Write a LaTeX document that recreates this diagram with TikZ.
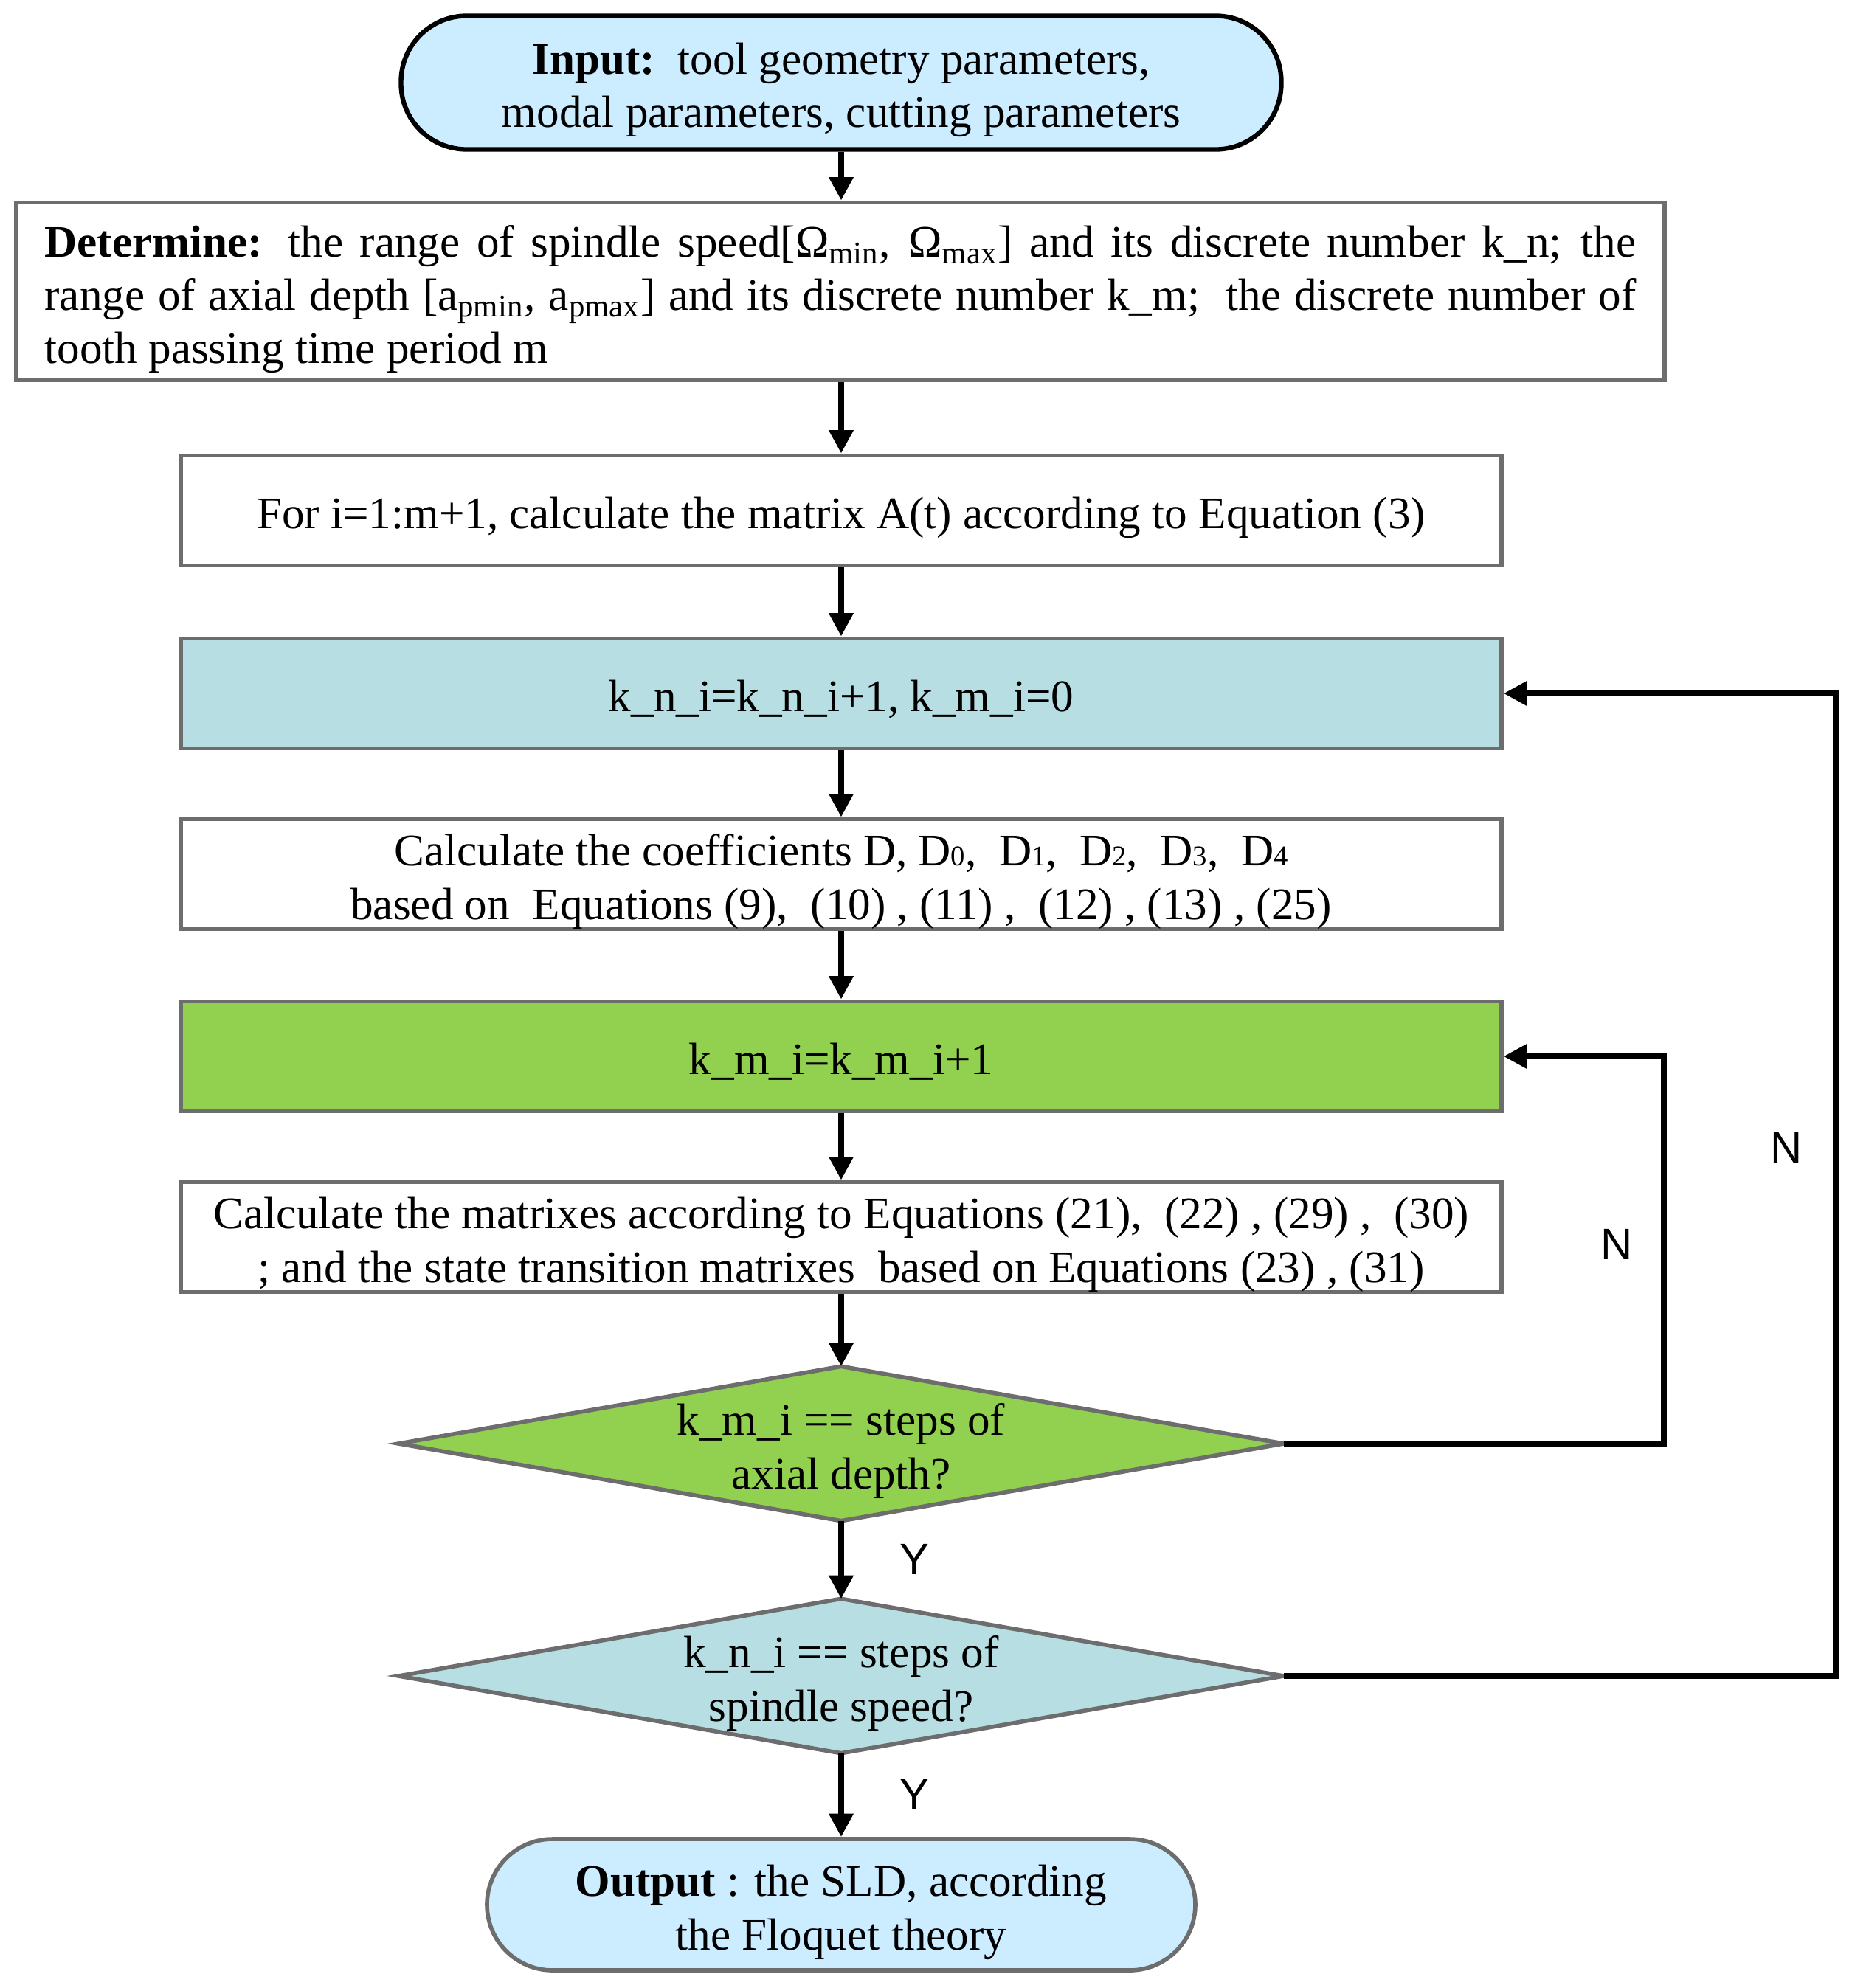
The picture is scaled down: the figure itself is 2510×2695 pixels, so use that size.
\documentclass[tikz,border=0pt]{standalone}
\usepackage{fontspec}
\setmainfont{Liberation Serif}
\newfontfamily\labelfont{Liberation Sans}
\usetikzlibrary{shapes.geometric,arrows.meta,backgrounds}
\definecolor{boxgray}{RGB}{109,109,109}
\definecolor{termblue}{RGB}{204,236,255}
\definecolor{tealfill}{RGB}{183,222,226}
\definecolor{greenfill}{RGB}{146,208,80}
\newcommand{\smd}[1]{{\fontsize{11}{11}\selectfont #1}}
\newcommand{\tx}[1]{\raisebox{-3pt}[\height][\depth]{\begin{tabular}{@{}c@{}}#1\end{tabular}}}
\begin{document}
\begin{tikzpicture}[x=0.1mm,y=-0.1mm,
  every node/.style={font=\fontsize{17.4}{20.5}\selectfont},
  box/.style={draw=boxgray,line width=1.6pt,rectangle,minimum width=179mm,minimum height=14.9mm,inner sep=0pt,align=center},
  term/.style={draw=boxgray,line width=1.6pt,rectangle,rounded corners=8.9mm,fill=termblue,inner sep=0pt,align=center},
  dtext/.style={rectangle,minimum width=119.8mm,minimum height=20.8mm,inner sep=0pt,align=center},
  dshape/.style={draw=boxgray,line width=1.6pt,line join=miter},
  arr/.style={draw=black,line width=2.3pt,-{Triangle[length=9pt,width=9pt]}},
  lab/.style={font=\labelfont\fontsize{17}{20}\selectfont,inner sep=0pt}]
\useasboundingbox (0,0) rectangle (2510,2695);
\node[term,draw=black,line width=1.8pt,minimum width=119.3mm,minimum height=18.1mm] (in) at (1140,112)
  {\tx{\textbf{Input:}\ \ tool geometry parameters,\\modal parameters, cutting parameters}};
\node[box,minimum width=223.4mm,minimum height=24.1mm,align=left] (det) at (1139,395)
  {\raisebox{-3pt}[\height][\depth]{\parbox{215.7mm}{\makebox[\linewidth][s]{\textbf{Determine:} the range of spindle speed[Ω\textsubscript{min}, Ω\textsubscript{max}] and its discrete number k\_n; the}\\
  \makebox[\linewidth][s]{range of axial depth [a\textsubscript{pmin}, a\textsubscript{pmax}] and its discrete number k\_m;\ \ the discrete number of}\\
  tooth passing time period m}}};
\node[box] (for) at (1140,692) {\tx{For i=1:m+1, calculate the matrix A(t) according to Equation (3)}};
\node[box,fill=tealfill] (kn) at (1140,940) {\tx{k\_n\_i=k\_n\_i+1, k\_m\_i=0}};
\node[box] (coef) at (1140,1185) {\tx{Calculate the coefficients D, D\smd{0},\ \ D\smd{1},\ \ D\smd{2},\ \ D\smd{3},\ \ D\smd{4}\\based on\ \ Equations (9),\ \ (10) , (11) ,\ \ (12) , (13) , (25)}};
\node[box,fill=greenfill] (km) at (1140,1432) {\tx{k\_m\_i=k\_m\_i+1}};
\node[box] (mat) at (1140,1677) {\tx{Calculate the matrixes according to Equations (21),\ \ (22) , (29) ,\ \ (30)\\; and the state transition matrixes\ \ based on Equations (23) , (31)}};
\node[dtext] (d1) at (1140,1957) {\tx{k\_m\_i == steps of\\axial depth?}};
\node[dtext] (d2) at (1140,2272) {\tx{k\_n\_i == steps of\\spindle speed?}};
\begin{scope}[on background layer]
\filldraw[dshape,fill=greenfill] (d1.north) -- (d1.east) -- (d1.south) -- (d1.west) -- cycle;
\filldraw[dshape,fill=tealfill] (d2.north) -- (d2.east) -- (d2.south) -- (d2.west) -- cycle;
\end{scope}
\node[term,minimum width=96mm,minimum height=17.8mm] (out) at (1140,2582)
  {\tx{\textbf{Output} : the SLD, according\\the Floquet theory}};
\draw[arr] (in.south) -- (det.north -| in.south);
\draw[arr] (det.south -| for.north) -- (for.north);
\draw[arr] (for.south) -- (kn.north);
\draw[arr] (kn.south) -- (coef.north);
\draw[arr] (coef.south) -- (km.north);
\draw[arr] (km.south) -- (mat.north);
\draw[arr] (mat.south) -- (d1.north);
\draw[arr] (d1.south) -- (d2.north);
\draw[arr] (d2.south) -- (out.north);
\coordinate (c1) at (2255,1432);
\coordinate (c2) at (2488,940);
\draw[arr,line join=miter] (d1.east) -| (c1) -- (km.east);
\draw[arr,line join=miter] (d2.east) -| (c2) -- (kn.east);
\node[lab] (n1) at (2421,1556) {N};
\node[lab] (n2) at (2191,1687) {N};
\node[lab] (y1) at (1239,2114) {Y};
\node[lab] (y2) at (1239,2433) {Y};
\end{tikzpicture}
\end{document}
